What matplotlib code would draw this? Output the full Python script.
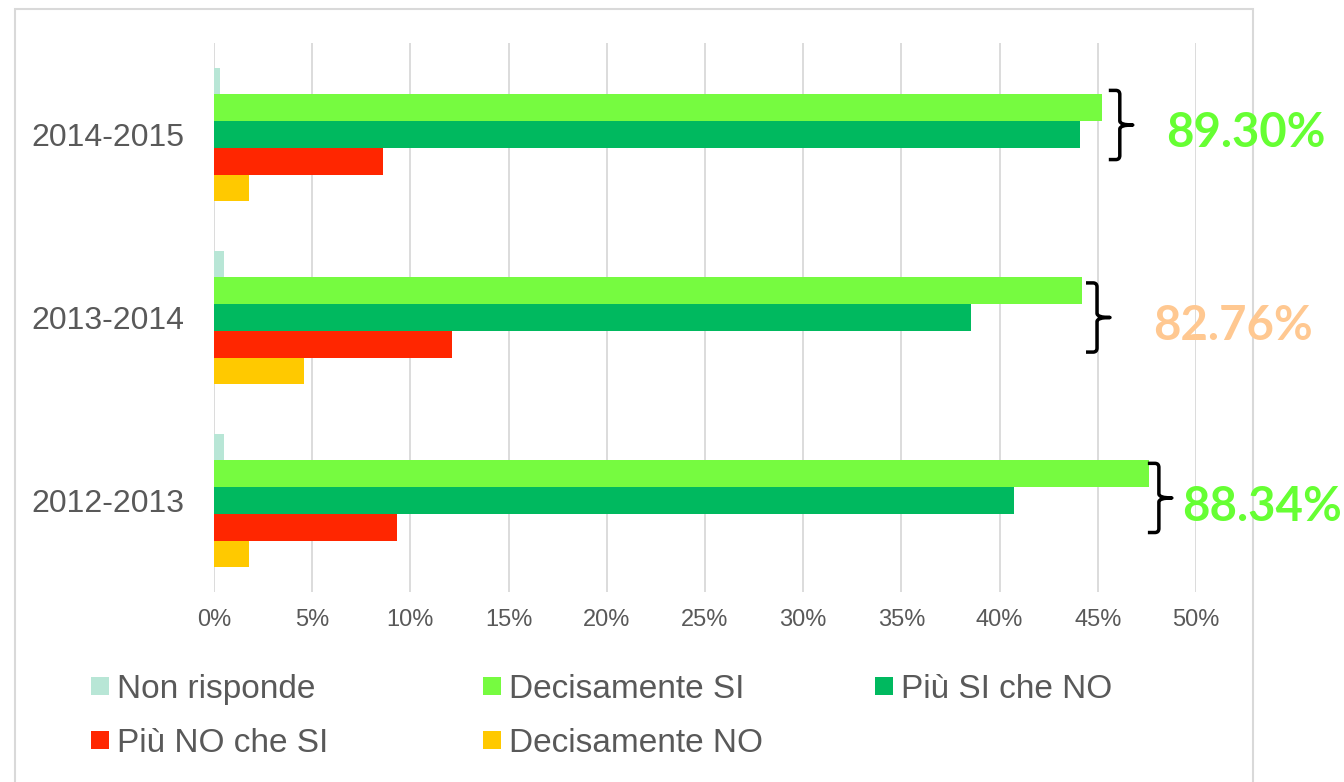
import matplotlib
matplotlib.use("Agg")
import matplotlib.pyplot as plt
from matplotlib.patches import Rectangle, PathPatch
from matplotlib.path import Path
from matplotlib.lines import Line2D
import numpy as np

# ---------------- data ----------------
categories = ["2012-2013", "2013-2014", "2014-2015"]
series_names = ["Non risponde", "Decisamente SI", "Più SI che NO",
                "Più NO che SI", "Decisamente NO"]
non_risponde = [0.5, 0.5, 0.3]
decisamente_si = [47.6, 44.2, 45.2]
piu_si = [40.74, 38.56, 44.1]
piu_no = [9.3, 12.1, 8.6]
decisamente_no = [1.8, 4.6, 1.8]
xticks = [0, 5, 10, 15, 20, 25, 30, 35, 40, 45, 50]

# ---------------- style ----------------
colors = ["#B8E6D6", "#76FB40", "#00B95F", "#FF2600", "#FFC900"]
label_colors = ["#66FF33", "#FFC891", "#66FF33"]
text_gray = "#595959"
grid_gray = "#D9D9D9"

W, H = 1344, 782
fig = plt.figure(figsize=(W / 100, H / 100), dpi=100)
fig.patch.set_facecolor("white")

ax = fig.add_axes([214 / W, 1 - 592 / H, (1196 - 214) / W, (592 - 43) / H])

all_series = [non_risponde, decisamente_si, piu_si, piu_no, decisamente_no]
h = 0.146
offsets = [2 * h, h, 0, -h, -2 * h]
y = np.arange(len(categories))
for vals, off, col, name in zip(all_series, offsets, colors, series_names):
    ax.barh(y + off, vals, height=h, color=col, label=name, zorder=3,
            linewidth=0)

ax.set_xlim(0, 50)
ax.set_ylim(-0.5, len(categories) - 0.5)
ax.set_xticks(xticks)
ax.set_xticklabels([f"{t}%" for t in xticks])
ax.set_yticks(y)
ax.set_yticklabels(categories)
for s in ax.spines.values():
    s.set_visible(False)
ax.grid(axis="x", color=grid_gray, linewidth=1.3, zorder=0)
ax.tick_params(axis="x", length=0, pad=12, labelsize=17, labelcolor=text_gray)
ax.tick_params(axis="y", length=0, pad=21, labelsize=23, labelcolor=text_gray)
for lab in ax.get_xticklabels() + ax.get_yticklabels():
    lab.set_fontfamily("Liberation Sans")

# ---------------- braces + totals ----------------
brace_gap = [-0.05, 0.2, 0.36]        # % gap from bar end to brace hook
brace_dy = [0.014, 0.0, 0.052]        # brace centre offset (category units)
label_x = [49.3, 47.8, 48.5]          # % position of total label
label_dy = [-0.11, -0.123, -0.067]    # baseline offset

half = 0.189
hook_w = 0.56
tip_w = 0.66
rx, ry = 0.2, 0.022
for i in range(len(categories)):
    x0 = decisamente_si[i] + brace_gap[i]
    xv = x0 + hook_w
    xt = xv + tip_w
    yc = y[i] + brace_dy[i]
    yt, yb = yc + half, yc - half
    verts = [(x0, yt), (xv - rx, yt), (xv, yt), (xv, yt - ry),
             (xv, yc + ry), (xv, yc), (xt, yc),
             (xv, yc), (xv, yc - ry),
             (xv, yb + ry), (xv, yb), (xv - rx, yb), (x0, yb)]
    codes = [Path.MOVETO, Path.LINETO, Path.CURVE3, Path.CURVE3,
             Path.LINETO, Path.CURVE3, Path.CURVE3,
             Path.CURVE3, Path.CURVE3,
             Path.LINETO, Path.CURVE3, Path.CURVE3, Path.LINETO]
    ax.add_patch(PathPatch(Path(verts, codes), fill=False, edgecolor="black",
                           linewidth=2.5, clip_on=False, zorder=5,
                           capstyle="butt", joinstyle="round"))
    total = decisamente_si[i] + piu_si[i]
    ax.text(label_x[i], y[i] + label_dy[i], f"{total:.2f}%",
            color=label_colors[i], fontsize=34, fontweight="bold",
            fontfamily="Lato", ha="left", va="baseline", clip_on=False,
            zorder=10)

# ---------------- frame ----------------
fig.add_artist(Rectangle((15 / W, -0.1), (1253 - 15) / W, 1.1 - 9 / H,
                         transform=fig.transFigure, fill=False,
                         edgecolor=grid_gray, linewidth=1.5, zorder=0))

# ---------------- legend (3 columns) ----------------
handles = [Line2D([], [], marker="s", linestyle="none", markersize=13,
                  markerfacecolor=c, markeredgewidth=0) for c in colors]
columns = [([0, 3], 91, (688 + 743) / 2 + 1),
           ([1, 4], 483, (688 + 743) / 2 + 1),
           ([2], 875, 689)]
for idx, xpx, ypx in columns:
    leg = fig.legend([handles[k] for k in idx], [series_names[k] for k in idx],
                     loc="center left", bbox_to_anchor=(xpx / W, 1 - ypx / H),
                     frameon=False, borderpad=0, borderaxespad=0,
                     handlelength=0.54, handletextpad=0.25, labelspacing=0.69,
                     prop={"family": "Liberation Sans", "size": 24})
    for t in leg.get_texts():
        t.set_color(text_gray)

fig.savefig("out.png", dpi=100, facecolor="white")
